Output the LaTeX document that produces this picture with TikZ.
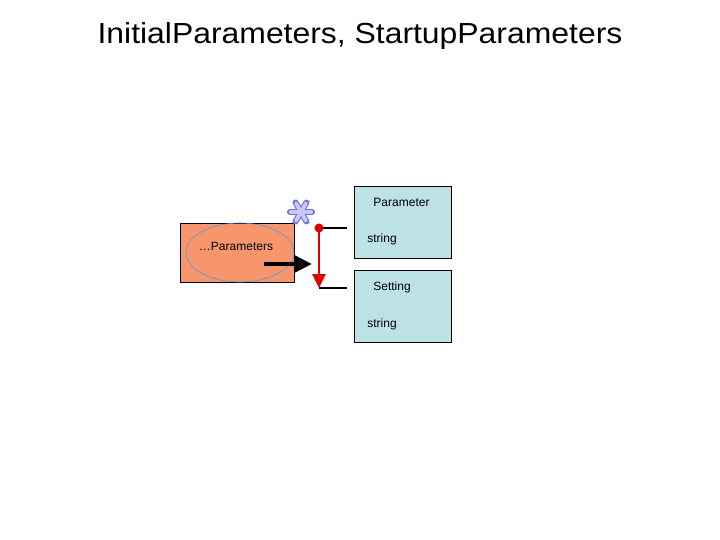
\documentclass[tikz,border=0pt]{standalone}
\usepackage{fontspec}
\setmainfont{Liberation Sans}
\usetikzlibrary{arrows.meta,shapes.geometric,calc}
\definecolor{orangefill}{RGB}{247,150,108}
\definecolor{boxfill}{RGB}{189,226,230}
\definecolor{ellline}{RGB}{90,150,210}
\definecolor{redline}{RGB}{225,0,0}
\definecolor{starfill}{RGB}{200,200,245}
\definecolor{starline}{RGB}{110,110,220}
\tikzset{
  classbox/.style={draw=black, fill=boxfill, line width=0.6pt, minimum width=97pt, minimum height=72pt, inner sep=0pt},
  lbl/.style={font=\fontsize{12}{14}\selectfont, inner sep=0pt, anchor=base},
  blackline/.style={line width=2.8pt, black},
}
\begin{document}
\begin{tikzpicture}[x=1pt,y=-1pt]
\useasboundingbox (0,0) rectangle (720,540);
% title
\node[font=\fontsize{29}{33}\selectfont, inner sep=0pt, xscale=1.1] (title) at (360,36) {InitialParameters, StartupParameters};
% left element
\node[draw=black, fill=orangefill, line width=0.6pt, minimum width=114pt, minimum height=59pt, inner sep=0pt] (rect) at (237.5,252.5) {};
\node[ellipse, draw=ellline, line width=0.6pt, minimum width=108pt, minimum height=59pt, inner sep=0pt] (ell) at (240,252.5) {};
\node[lbl] (dots) at (236,250) {\ldots Parameters};
% black arrow
\coordinate (as) at (264,264);
\coordinate (ae) at (312,264);
\draw[line width=4.5pt, -{Triangle[length=18pt,width=17pt]}] (as) -- (ae);
% class boxes
\node[classbox] (pbox) at (402.5,222) {};
\node[classbox] (sbox) at (402.5,306) {};
\node[lbl] (ptitle) at (401.5,206.5) {Parameter};
\node[lbl] (pstr) at (382,243) {string};
\node[lbl] (stitle) at (392,290.5) {Setting};
\node[lbl] (sstr) at (382,327) {string};
% connectors
\coordinate (top) at (319,228);
\coordinate (bot) at (319,288);
\coordinate (topend) at (347,228);
\coordinate (botend) at (347,288);
\draw[blackline] (top) -- (topend);
\draw[blackline] (bot) -- (botend);
\draw[redline, line width=2.8pt, -{Triangle[length=14pt,width=13pt]}] (top) -- (bot);
\fill[redline] (top) circle (4.5pt);
% asterisk
\coordinate (star) at (301,212);
\foreach \a in {0,60,120} {
  \draw[starline, line width=6pt, line cap=round] ($(star)+(\a:11pt)$) -- ($(star)+(\a+180:11pt)$);
}
\foreach \a in {0,60,120} {
  \draw[starfill, line width=3.8pt, line cap=round] ($(star)+(\a:10.2pt)$) -- ($(star)+(\a+180:10.2pt)$);
}
\end{tikzpicture}
\end{document}
